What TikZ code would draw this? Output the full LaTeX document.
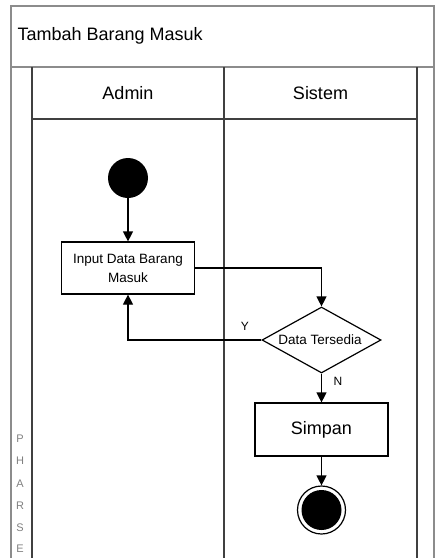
\documentclass[tikz,border=0pt]{standalone}
\usepackage{fontspec}
\setmainfont{Liberation Sans}
\usetikzlibrary{arrows.meta,shapes.geometric,calc}
\tikzset{
  frame/.style={draw=black!75, line width=1.6pt},
  outer/.style={draw=black!45, line width=1.8pt},
  act/.style={draw=black, line width=1.2pt, rectangle, align=center, inner sep=0pt},
  flow/.style={draw=black, line width=1.2pt, -{Triangle[length=10pt,width=10pt]}},
  lbl/.style={font=\fontsize{18}{20}\selectfont},
  phase/.style={font=\fontsize{11}{12}\selectfont, text=black!50, inner sep=0pt}
}
\begin{document}
\begin{tikzpicture}[x=1pt,y=-1pt]
\useasboundingbox (0,0) rectangle (436,558);
% outer frame
\draw[outer] (11,570) -- (11,6) -- (434,6) -- (434,570);
\draw[outer] (11,67) -- (434,67);
\node[lbl, anchor=west] (title) at (14,36) {Tambah Barang Masuk};
% lanes
\draw[frame] (32,570) -- (32,67);
\draw[frame] (224,570) -- (224,67);
\draw[frame] (417,570) -- (417,67);
\draw[frame] (32,119) -- (417,119);
\node[lbl] (admin) at (128,93) {Admin};
\node[lbl] (sistem) at (320.5,93) {Sistem};
% phase letters
\foreach \ch/\yy [count=\i] in {P/439,H/461,A/484,R/506,S/528,E/549}
  \node[phase] (ph\i) at (20,\yy) {\ch};
% nodes
\node[circle, fill=black, minimum size=40pt, inner sep=0pt] (start) at (128,178) {};
\node[act, minimum width=133pt, minimum height=52pt, font=\fontsize{13.5}{19}\selectfont] (input) at (128,268) {Input Data Barang\\Masuk};
\node[diamond, draw=black, line width=1.2pt, minimum width=119pt, minimum height=66pt, inner sep=0pt, aspect=1.8] (dec) at (321.5,340) {};
\node[font=\fontsize{13.5}{15}\selectfont] (dectext) at (320,340) {Data Tersedia};
\node[act, minimum width=133pt, minimum height=53pt, font=\fontsize{18}{20}\selectfont] (simpan) at (321.5,429.5) {Simpan};
\node[circle, draw=black, line width=1.2pt, minimum size=48pt, inner sep=0pt,
  path picture={\fill[black] (path picture bounding box.center) circle (20pt);}] (end) at (321.5,510) {};
% connectors
\draw[flow] (start) -- (input);
\draw[flow] (input.east) -| (dec.north);
\draw[flow] (dec.west) -| (input.south);
\draw[flow] (dec.south) -- (simpan.north);
\draw[flow] (simpan.south) -- (end.north);
\node[font=\fontsize{12}{13}\selectfont] (ylbl) at (245,326) {Y};
\node[font=\fontsize{12}{13}\selectfont] (nlbl) at (338,381) {N};
\end{tikzpicture}
\end{document}
